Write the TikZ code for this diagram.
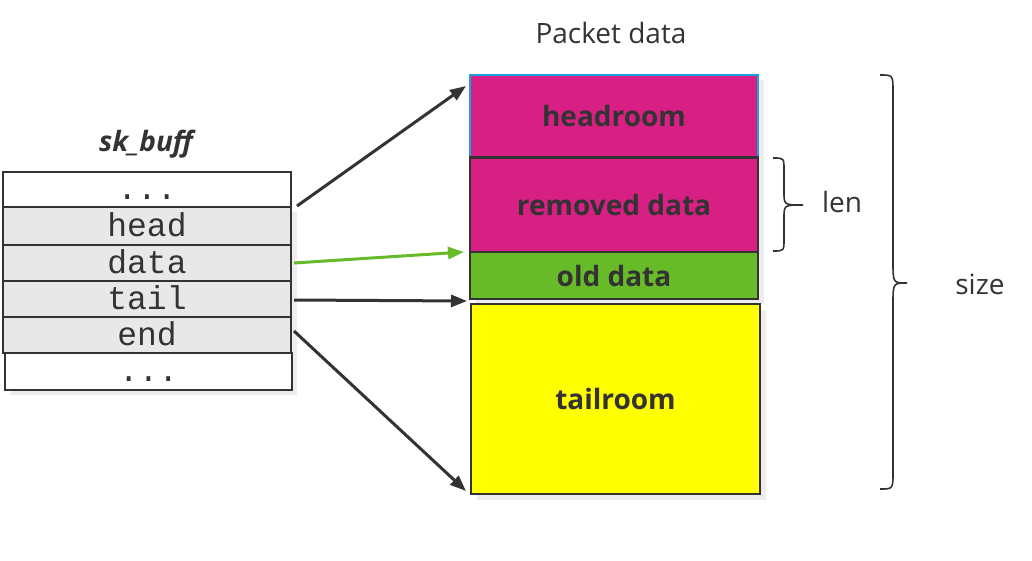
\documentclass[tikz,border=0pt]{standalone}
\usepackage{fontspec}
\setmainfont{Open Sans}
\newfontfamily\monofont{Liberation Mono}
\usetikzlibrary{arrows.meta,calc}
\definecolor{ink}{HTML}{333333}
\definecolor{magentab}{HTML}{D81F83}
\definecolor{greenb}{HTML}{67BB28}
\definecolor{yellowb}{HTML}{FFFF00}
\definecolor{rowgray}{HTML}{E8E8E8}
\definecolor{shadowgray}{HTML}{EDEDED}
\definecolor{blueedge}{HTML}{1BA1E2}
\tikzset{
  row/.style={draw=ink, line width=2pt, rectangle, minimum width=288pt, inner sep=0pt,
    text height=24pt, text depth=4pt,
    font=\monofont\fontsize{33}{33}\selectfont, text=ink},
  grayrow/.style={row, fill=rowgray},
  whiterow/.style={row, fill=white},
  pbox/.style={draw=ink, line width=2pt, rectangle, minimum width=288pt, inner sep=0pt,
    font=\bfseries\fontsize{28}{28}\selectfont, text=ink},
  ptr/.style={draw=ink, line width=3pt, -{Triangle[length=16pt,width=12pt]}},
  gptr/.style={ptr, draw=greenb, -{Triangle[length=16pt,width=12pt,fill=greenb]}},
  brace/.style={draw=ink, line width=1.6pt},
  lbl/.style={font=\fontsize{28}{28}\selectfont, text=ink, inner sep=0pt}
}
\begin{document}
\begin{tikzpicture}[x=1pt,y=-1pt]
\useasboundingbox (0,0) rectangle (1032,560);
% shadows
\fill[shadowgray] (8,212) rectangle (297,358);
\fill[shadowgray] (10,358) rectangle (297,395);
\fill[shadowgray] (476,80) rectangle (764,304);
\fill[shadowgray] (477,310) rectangle (766,500);
% left table
\node[whiterow, minimum height=35pt] (dots1) at (147,189.5) {...};
\node[grayrow, minimum height=38pt] (head) at (147,226) {head};
\node[grayrow, minimum height=36pt] (data) at (147,263) {data};
\node[grayrow, minimum height=36pt] (tail) at (147,299) {tail};
\node[grayrow, minimum height=36pt] (end) at (147,335) {end};
\node[whiterow, minimum height=37pt, minimum width=287pt] (dots2) at (148.5,371.5) {...};
\node[font=\bfseries\itshape\fontsize{28}{28}\selectfont, text=ink, inner sep=0pt] (skb) at (146,144) {sk\_buff};
% packet data
\node[lbl] (pd) at (611,33) {Packet data};
\node[pbox, fill=magentab, draw=blueedge, minimum height=82pt] (headroom) at (614,116) {headroom};
\node[pbox, fill=magentab, minimum height=95pt] (removed) at (614,204.5) {removed data};
\node[pbox, fill=greenb, minimum height=47pt] (old) at (614,275.5) {old data};
\node[pbox, fill=yellowb, minimum width=289pt, minimum height=190pt] (tailroom) at (615.5,399) {tailroom};
\draw[ink, line width=2pt] (headroom.south west) -- (headroom.south east);
% pointers
\draw[ptr] ($(head.north east)+(5,0)$) -- ($(headroom.north west)+(-3,12)$);
\draw[gptr] ($(data.east)+(2,0)$) -- ($(old.north west)+(-5,1)$);
\draw[ptr] ($(tail.east)+(2,1)$) -- ($(old.south west)+(-2,1)$);
\draw[ptr] ($(end.east)+(2,-4)$) -- ($(tailroom.south west)+(-4,-4)$);
% braces
\coordinate (lenA) at (773,158);
\coordinate (lenB) at (773,251);
\coordinate (lenT) at (803,205);
\draw[brace] (lenA) .. controls (784,158) .. (784,170) -- (784,192)
  .. controls (784,205) .. (lenT) .. controls (784,205) .. (784,218) -- (784,239)
  .. controls (784,251) .. (lenB);
\node[lbl] (len) at (842,202) {len};
\coordinate (sizeA) at (880,75);
\coordinate (sizeB) at (880,489);
\coordinate (sizeT) at (907,283);
\draw[brace] (sizeA) .. controls (893,75) .. (893,92) -- (893,262)
  .. controls (893,283) .. (sizeT) .. controls (893,283) .. (893,304) -- (893,472)
  .. controls (893,489) .. (sizeB);
\node[lbl] (size) at (980,284) {size};
\end{tikzpicture}
\end{document}
